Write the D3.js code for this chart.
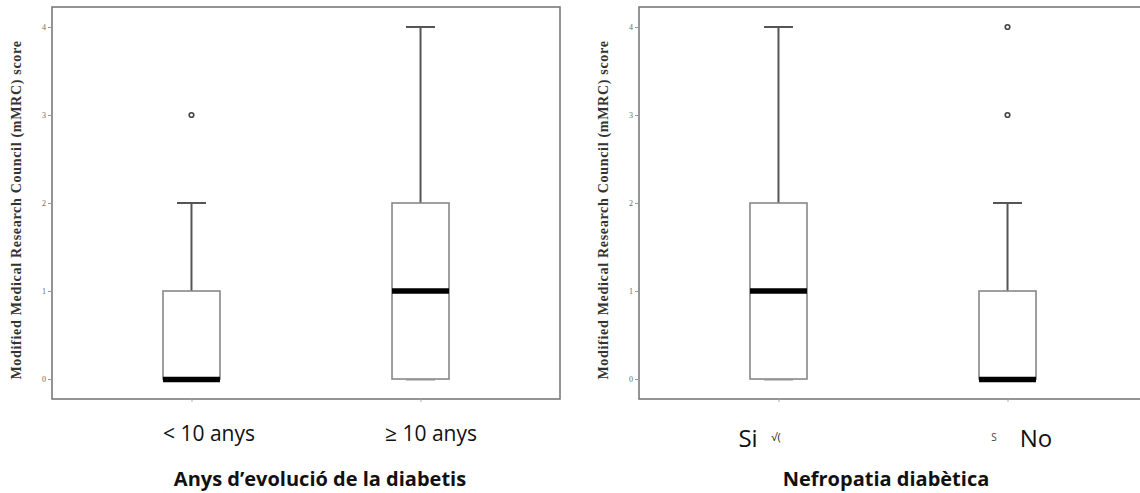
<!DOCTYPE html>
<html>
<head>
<meta charset="utf-8">
<script src="https://cdn.jsdelivr.net/npm/d3@7"></script>
<style>
  html, body { margin: 0; padding: 0; background: #fff; }
  svg { display: block; }
</style>
</head>
<body>
<div id="chart"></div>
<script>
// mMRC score box plots, two panels side by side

var yTicks = [0, 1, 2, 3, 4];
var yLabel = 'Modified Medical Research Council (mMRC) score';

// left panel: years since diabetes diagnosis
var yearsGroups = ['< 10 anys', '\u2265 10 anys'];
var yearsStats = [
  { low: 0, q1: 0, median: 0, q3: 1, high: 2, outliers: [3] },
  { low: 0, q1: 0, median: 1, q3: 2, high: 4, outliers: [] }
];
var yearsTitle = 'Anys d\u2019evoluci\u00f3 de la diabetis';

// right panel: diabetic nephropathy
var nephroGroups = ['Si', 'No'];
var nephroStats = [
  { low: 0, q1: 0, median: 1, q3: 2, high: 4, outliers: [] },
  { low: 0, q1: 0, median: 0, q3: 1, high: 2, outliers: [3, 4] }
];
var nephroTitle = 'Nefropatia diab\u00e8tica';

var WIDTH = 1140;
var HEIGHT = 493;
var FRAME_TOP = 7;
var FRAME_BOTTOM = 399;
var FRAME_W = 508;
var BOX_W = 57;
var CAP_W = 29;

var svg = d3.select('#chart').append('svg')
  .attr('width', WIDTH)
  .attr('height', HEIGHT);

var y = d3.scaleLinear()
  .domain([-0.227, 4.227])
  .range([FRAME_BOTTOM, FRAME_TOP]);

function drawPanel(opts) {
  var left = opts.left;
  var g = svg.append('g');

  var x = d3.scalePoint()
    .domain(opts.groups)
    .range([left, left + FRAME_W])
    .padding(0.609);

  // frame
  g.append('rect')
    .attr('x', left)
    .attr('y', FRAME_TOP)
    .attr('width', FRAME_W)
    .attr('height', FRAME_BOTTOM - FRAME_TOP)
    .attr('fill', 'none')
    .attr('stroke', '#7a7a7a')
    .attr('stroke-width', 1.6);

  // y axis ticks + labels
  var yAxis = d3.axisLeft(y).tickValues(yTicks).tickSize(4).tickPadding(2)
    .tickFormat(d3.format('d'));
  var ya = g.append('g')
    .attr('transform', 'translate(' + left + ',0)')
    .call(yAxis);
  ya.select('.domain').remove();
  ya.selectAll('line').attr('stroke', '#999');
  ya.selectAll('text')
    .attr('fill', '#666')
    .style('font', '8px "Liberation Serif", serif');

  // x ticks
  var xAxis = d3.axisBottom(x).tickSize(3).tickFormat('');
  var xa = g.append('g')
    .attr('transform', 'translate(0,' + FRAME_BOTTOM + ')')
    .call(xAxis);
  xa.select('.domain').remove();
  xa.selectAll('line').attr('stroke', '#aaa');

  // y label
  g.append('text')
    .attr('transform', 'translate(' + (left - 31) + ',' + 210 + ') rotate(-90)')
    .attr('text-anchor', 'middle')
    .attr('fill', '#333')
    .style('font', 'bold 14px "Liberation Serif", serif')
    .style('letter-spacing', '0.7px')
    .text(yLabel);

  // boxes
  opts.stats.forEach(function(s, i) {
    var cx = x(opts.groups[i]);
    var bg = g.append('g');

    // whisker upper
    bg.append('line')
      .attr('x1', cx).attr('x2', cx)
      .attr('y1', y(s.q3)).attr('y2', y(s.high))
      .attr('stroke', '#555').attr('stroke-width', 2);
    bg.append('line')
      .attr('x1', cx - CAP_W / 2).attr('x2', cx + CAP_W / 2)
      .attr('y1', y(s.high)).attr('y2', y(s.high))
      .attr('stroke', '#555').attr('stroke-width', 2);
    // whisker lower cap (sits on the box bottom here)
    bg.append('line')
      .attr('x1', cx - CAP_W / 2).attr('x2', cx + CAP_W / 2)
      .attr('y1', y(s.low) + 1).attr('y2', y(s.low) + 1)
      .attr('stroke', '#bbb').attr('stroke-width', 1.5);

    bg.append('rect')
      .attr('x', cx - BOX_W / 2)
      .attr('y', y(s.q3))
      .attr('width', BOX_W)
      .attr('height', y(s.q1) - y(s.q3))
      .attr('fill', '#fff')
      .attr('stroke', '#888')
      .attr('stroke-width', 1.6);

    bg.append('line')
      .attr('x1', cx - BOX_W / 2).attr('x2', cx + BOX_W / 2)
      .attr('y1', y(s.median) + (s.median === s.q1 ? 0.5 : 0))
      .attr('y2', y(s.median) + (s.median === s.q1 ? 0.5 : 0))
      .attr('stroke', '#000').attr('stroke-width', 5.5);

    s.outliers.forEach(function(o) {
      bg.append('circle')
        .attr('cx', cx).attr('cy', y(o))
        .attr('r', 2.3)
        .attr('fill', '#fff')
        .attr('stroke', '#444')
        .attr('stroke-width', 1.6);
    });
  });

  // category labels
  opts.groups.forEach(function(c, i) {
    g.append('text')
      .attr('x', opts.labelX[i])
      .attr('y', opts.labelY)
      .attr('text-anchor', 'middle')
      .attr('fill', '#111')
      .style('font', opts.labelFont)
      .text(c);
  });

  // title
  g.append('text')
    .attr('x', opts.titleX)
    .attr('y', 486)
    .attr('text-anchor', 'middle')
    .attr('fill', '#111')
    .style('font', 'bold 20px "Open Sans", sans-serif')
    .text(opts.title);

  return g;
}

drawPanel({
  left: 52,
  groups: yearsGroups,
  stats: yearsStats,
  title: yearsTitle,
  titleX: 320,
  labelX: [209, 431],
  labelY: 441,
  labelFont: '21px "Open Sans", sans-serif'
});

var right = drawPanel({
  left: 639,
  groups: nephroGroups,
  stats: nephroStats,
  title: nephroTitle,
  titleX: 886,
  labelX: [748, 1036],
  labelY: 447,
  labelFont: '24px "Open Sans", sans-serif'
});

// leftover fragments of older labels that show through in the source image
right.append('text')
  .attr('x', 776).attr('y', 441)
  .attr('text-anchor', 'middle')
  .attr('fill', '#222')
  .style('font', '11px "Open Sans", sans-serif')
  .text('\u221a(');
right.append('text')
  .attr('x', 994).attr('y', 441)
  .attr('text-anchor', 'middle')
  .attr('fill', '#444')
  .style('font', '10px "Open Sans", sans-serif')
  .text('\u0053');
</script>
</body>
</html>
